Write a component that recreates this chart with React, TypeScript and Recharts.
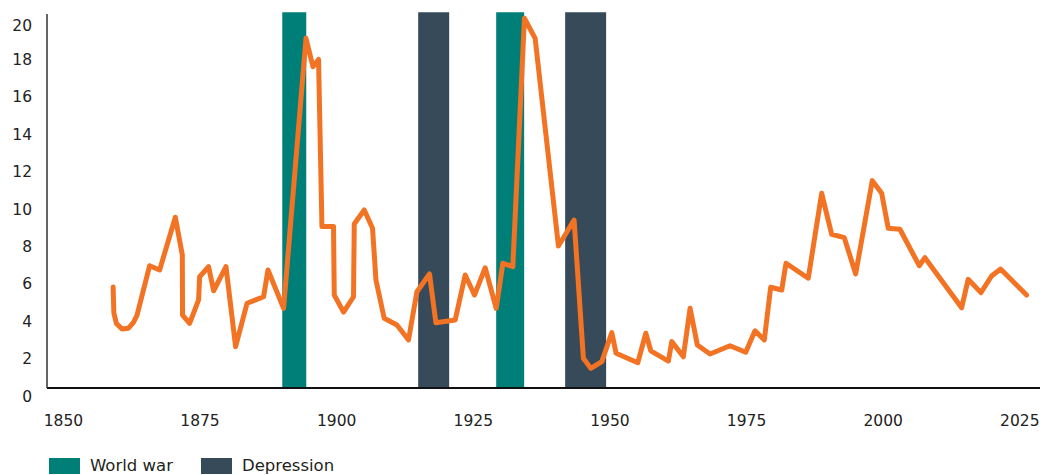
import React from "react";
import {Line, LineChart, ReferenceArea, XAxis, YAxis} from "recharts";

const years = [
  1859.1, 1859.24, 1859.7, 1860.73, 1861.9, 1862.8, 1863.48, 1865.78, 1867.61, 1870.48,
  1871.76, 1871.8, 1873.1, 1874.74, 1874.93, 1876.57, 1877.49, 1879.75, 1881.51, 1883.6,
  1886.63, 1887.44, 1890.29, 1894.39, 1895.67, 1896.69, 1897.31, 1899.43, 1899.56, 1901.26,
  1903.09, 1903.22, 1905.05, 1906.57, 1907.19, 1908.7, 1911.03, 1913.15, 1914.69, 1916.99,
  1918.16, 1921.69, 1923.52, 1925.22, 1927.18, 1929.19, 1930.41, 1932.24, 1934.36, 1936.32,
  1940.58, 1943.45, 1945.15, 1946.51, 1948.52, 1950.35, 1951.13, 1955.1, 1956.57, 1957.48,
  1960.7, 1961.32, 1963.44, 1964.67, 1966.0, 1968.32, 1971.98, 1974.85, 1976.55, 1978.25,
  1979.42, 1981.44, 1982.22, 1986.3, 1988.75, 1990.58, 1992.89, 1994.97, 1998.01, 1999.73,
  2000.93, 2003.07, 2006.6, 2007.64, 2014.36, 2015.56, 2017.89, 2019.84, 2021.49, 2026.24,
];

const values = [
  5.4, 4.0, 3.45, 3.15, 3.2, 3.5, 3.9, 6.54, 6.31, 9.13,
  7.11, 3.9, 3.46, 4.71, 5.95, 6.49, 5.2, 6.49, 2.21, 4.53,
  4.88, 6.31, 4.26, 18.7, 17.18, 17.57, 8.63, 8.63, 4.97, 4.06,
  4.88, 8.77, 9.52, 8.54, 5.78, 3.73, 3.37, 2.57, 5.15, 6.1,
  3.49, 3.64, 6.04, 4.97, 6.43, 4.26, 6.67, 6.49, 19.77, 18.7,
  7.59, 8.98, 1.59, 1.05, 1.41, 2.96, 1.86, 1.35, 2.93, 1.99,
  1.44, 2.48, 1.67, 4.26, 2.3, 1.82, 2.26, 1.91, 3.06, 2.57,
  5.39, 5.24, 6.67, 5.87, 10.41, 8.22, 8.04, 6.1, 11.09, 10.41,
  8.54, 8.49, 6.54, 6.97, 4.29, 5.81, 5.1, 5.99, 6.36, 4.97,
];

// shaded periods
const periodStarts = [1890.05, 1914.92, 1929.19, 1941.81];
const periodEnds = [1894.44, 1920.59, 1934.31, 1949.31];
const periodKinds = ["World war", "Depression", "World war", "Depression"];

const xTicks = [1850, 1875, 1900, 1925, 1950, 1975, 2000, 2025];
const yTicks = [0, 2, 4, 6, 8, 10, 12, 14, 16, 18, 20];

const legendItems = ["World war", "Depression"];

const kindColor: Record<string, string> = {
  "World war": "#007F78",
  "Depression": "#374A5A",
};
const lineColor = "#F37324";
const font = "'DejaVu Sans', sans-serif";

const data = years.map((year, i) => ({year, value: values[i]}));

const XTick = (props: any) => {
  const {x, y, payload} = props;
  return <text x={x} y={y} dy="0.71em" textAnchor="middle" fill="#222" fontSize={15.5} fontFamily={font}>
    {payload.value}
  </text>
}

const YTick = (props: any) => {
  const {x, y, payload} = props;
  return <text x={x - 7} y={y + 8} dy="0.355em" textAnchor="end" fill="#222" fontSize={15.5} fontFamily={font}>
    {payload.value}
  </text>
}

export default function App() {
  return (
    <div style={{position: "relative", width: 1040, height: 467}}>
      <LineChart width={1040} height={440} data={data} margin={{top: 6, right: 8, left: 0, bottom: 0}}>
        {periodStarts.map((start, i) => (
          <ReferenceArea key={`p-${i}`} x1={start} x2={periodEnds[i]} y1={0} y2={20.1}
                         ifOverflow="visible" fill={kindColor[periodKinds[i]]} fillOpacity={1}
                         strokeWidth={0}/>
        ))}
        <XAxis dataKey="year" type="number" domain={[1847, 2028.7]} ticks={xTicks} allowDataOverflow
               height={60} tickLine={false} tickMargin={21} tick={XTick}
               axisLine={{stroke: "#111", strokeWidth: 2}}/>
        <YAxis type="number" domain={[0, 20]} ticks={yTicks} width={39} tickLine={false}
               tick={YTick} axisLine={{stroke: "#333", strokeWidth: 1.5}}/>
        <Line type="linear" dataKey="value" stroke={lineColor} strokeWidth={5} dot={false}
              strokeLinejoin="round" strokeLinecap="round" isAnimationActive={false}/>
      </LineChart>
      <div style={{position: "absolute", top: 448, left: 41, display: "flex", alignItems: "center",
        fontFamily: font, fontSize: 16.5, color: "#231f20"}}>
        {legendItems.map((name) => (
          <div key={name} style={{display: "flex", alignItems: "center", marginRight: 28}}>
            <span style={{display: "inline-block", width: 31, height: 16, background: kindColor[name], marginRight: 10}}/>
            <span>{name}</span>
          </div>
        ))}
      </div>
    </div>
  );
}
